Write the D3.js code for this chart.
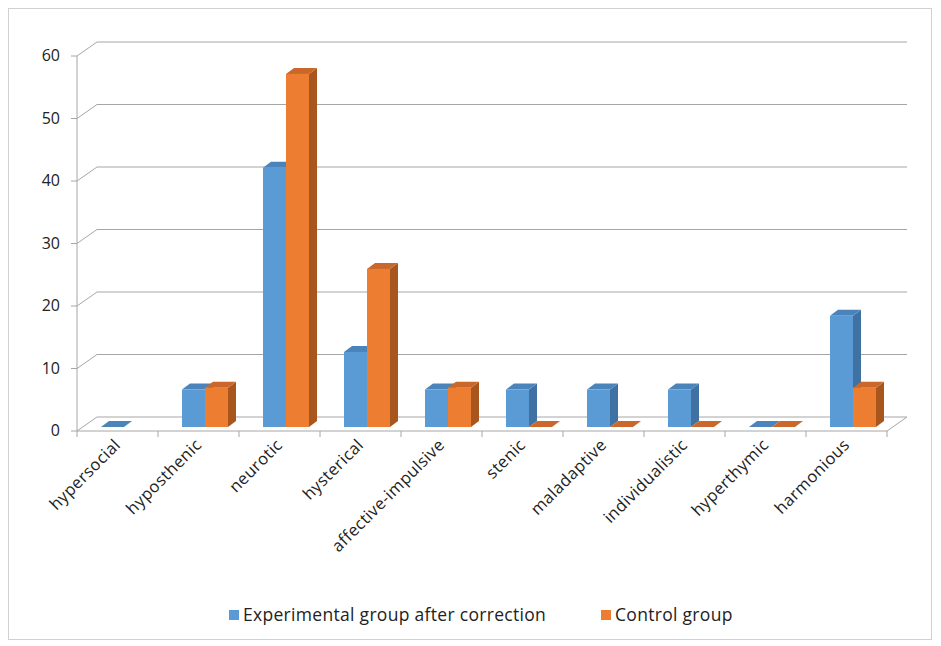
<!DOCTYPE html>
<html><head><meta charset="utf-8">
<script src="https://cdn.jsdelivr.net/npm/d3@7"></script>
<style>body{margin:0;background:#fff}text{font-family:"Open Sans",sans-serif;fill:#222}</style>
</head><body><svg id="chart" width="941" height="646"></svg>
<script>
const categories = ["hypersocial","hyposthenic","neurotic","hysterical","affective-impulsive","stenic","maladaptive","individualistic","hyperthymic","harmonious"];
const experimental = [0, 6, 41.5, 12, 6, 6, 6, 6, 0, 17.8];
const control = [null, 6.3, 56.5, 25.3, 6.3, 0, 0, 0, 0, 6.3];
const yTicks = [0,10,20,30,40,50,60];
const seriesNames = ["Experimental group after correction","Control group"];

const svg = d3.select("#chart");
const dx = 20, dy = -14;          // floor depth
const bdx = 8, bdy = -6;          // bar depth
const x = d3.scaleBand().domain(categories).range([77, 887]);
const y = d3.scaleLinear().domain([0,60]).range([431, 56]);
const colors = [{f:"#5b9bd5",s:"#3f72a3",t:"#4a84bb"},{f:"#ed7d31",s:"#a9551e",t:"#c9682a"}];

svg.append("rect").attr("x",8.5).attr("y",8.5).attr("width",923).attr("height",631)
  .attr("fill","none").attr("stroke","#d0d0d0");

const grid = svg.append("g").attr("stroke","#a6a6a6").attr("fill","none");
yTicks.forEach(v=>{
  const yy=y(v);
  grid.append("path").attr("d",`M77,${yy}L${77+dx},${yy+dy}L${887+dx},${yy+dy}`);
  grid.append("line").attr("x1",71).attr("x2",77).attr("y1",yy).attr("y2",yy);
});
grid.append("line").attr("x1",77).attr("x2",77).attr("y1",y(60)).attr("y2",y(0));
grid.append("path").attr("d",`M77,431L887,431L${887+dx},${431+dy}`);
categories.forEach((c,i)=>grid.append("line").attr("x1",x(c)).attr("x2",x(c)).attr("y1",431).attr("y2",437));
grid.append("line").attr("x1",887).attr("x2",887).attr("y1",431).attr("y2",437);

svg.append("g").selectAll("text").data(yTicks).join("text")
  .attr("x",60).attr("y",d=>y(d)+5).attr("text-anchor","end").attr("font-size",16).text(d=>d);

const base = 427, bw = 23, off = 24;
const sy = v => base - (y(0)-y(v));
[experimental, control].forEach((vals,si)=>{
  const g = svg.append("g");
  vals.forEach((v,i)=>{
    if(v===null) return;
    const x0 = x(categories[i]) + off + si*bw, x1 = x0+bw, top = sy(v);
    const c = colors[si];
    g.append("path").attr("fill",c.s).attr("d",`M${x1},${base}L${x1+bdx},${base+bdy}L${x1+bdx},${top+bdy}L${x1},${top}Z`);
    g.append("path").attr("fill",c.t).attr("d",`M${x0},${top}L${x0+bdx},${top+bdy}L${x1+bdx},${top+bdy}L${x1},${top}Z`);
    if(v>0) g.append("rect").attr("fill",c.f).attr("x",x0).attr("y",top).attr("width",bw).attr("height",base-top);
  });
});

svg.append("g").selectAll("text").data(categories).join("text")
  .attr("transform",d=>`translate(${x(d)+x.bandwidth()/2+4},${446}) rotate(-45)`)
  .attr("text-anchor","end").attr("font-size",16.5).attr("letter-spacing",0.4).text(d=>d);

const leg = [{x:229,t:seriesNames[0]},{x:601,t:seriesNames[1]}];
leg.forEach((l,i)=>{
  svg.append("rect").attr("x",l.x).attr("y",610).attr("width",10).attr("height",10).attr("fill",colors[i].f);
  svg.append("text").attr("x",l.x+14).attr("y",621).attr("font-size",17.5).attr("letter-spacing",0.3).text(l.t);
});
</script></body></html>
